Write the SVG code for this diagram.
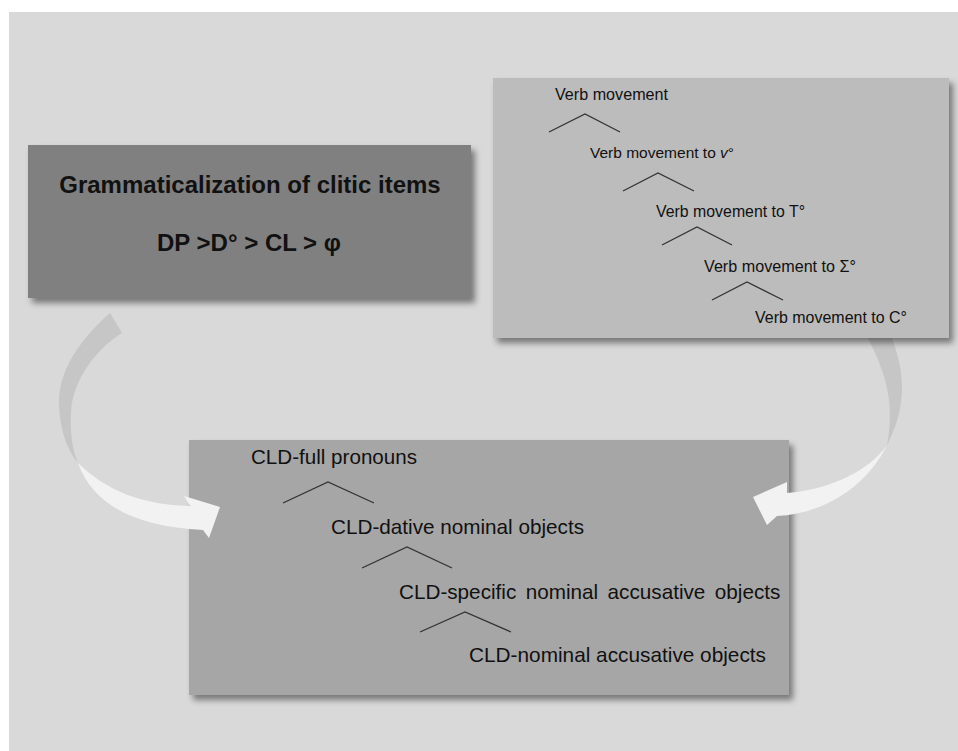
<svg xmlns="http://www.w3.org/2000/svg" width="958" height="751" viewBox="0 0 958 751">
  <defs>
    <filter id="shadow" x="-10%" y="-10%" width="125%" height="130%">
      <feDropShadow dx="4" dy="5" stdDeviation="3" flood-color="#000" flood-opacity="0.45"/>
    </filter>
    <style>
      .bg { fill: #d9d9d9; }
      .box { filter: url(#shadow); }
      .title { font-family: "Liberation Sans", Arial, sans-serif; font-weight: bold; font-size: 24px; fill: #111; text-anchor: middle; }
      .verb { font-family: "Liberation Sans", Arial, sans-serif; font-size: 17px; fill: #111; }
      .cld { font-family: "Liberation Sans", Arial, sans-serif; font-size: 20.7px; fill: #111; }
      .branch { fill: none; stroke: #333; stroke-width: 1.3; }
      .back { fill: #c6c6c6; }
      .front { fill: #f2f2f2; }
    </style>
  </defs>

  <!-- page background -->
  <rect class="bg" x="9" y="12" width="949" height="739"/>

  <!-- clitic doubling tree (drawn first so the arrowheads sit on top of it) -->
  <g id="clitic-doubling">
    <rect class="box" x="189" y="440" width="600" height="255" fill="#a6a6a6"/>
    <text class="cld" x="251" y="464" textLength="166" lengthAdjust="spacingAndGlyphs">CLD-full pronouns</text>
    <polyline class="branch" points="283,503 328,482 374,503"/>
    <text class="cld" x="331" y="534" textLength="253" lengthAdjust="spacingAndGlyphs">CLD-dative nominal objects</text>
    <polyline class="branch" points="362,568 407,547 452,568"/>
    <text class="cld" x="399" y="599" word-spacing="3.7">CLD-specific nominal accusative objects</text>
    <polyline class="branch" points="420,632 465,612 511,632"/>
    <text class="cld" x="469" y="662" textLength="297" lengthAdjust="spacingAndGlyphs">CLD-nominal accusative objects</text>
  </g>

  <!-- curved arrows -->
  <g id="connectors">
    <g id="arrow-left">
      <path class="back" d="M110,313 C80,340 58,370 59,405 C60,430 67,450 78,463 C72,450 70,430 71,412 C73,380 95,350 122,333 Z"/>
      <path class="front" d="M78,463 Q100,525 203,530 L209,538 L220,507 L184,496 L190,506 Q120,505 78,463 Z"/>
    </g>
    <g id="arrow-right">
      <path class="back" d="M864,332 C875,350 886,375 889,400 C891,420 889,435 887,445 C895,430 902,410 902,388 C902,365 896,350 890,332 Z"/>
      <path class="front" d="M887,445 C870,470 830,490 787,493 L787,482 L753,497 L767,525 L777,516 C820,514 865,490 887,445 Z"/>
    </g>
  </g>

  <!-- grammaticalization box -->
  <g id="grammaticalization">
    <rect class="box" x="28" y="145" width="443" height="153" fill="#808080"/>
    <text class="title" x="250" y="193">Grammaticalization of clitic items</text>
    <text class="title" x="249" y="251">DP &gt;D° &gt; CL &gt; φ</text>
  </g>

  <!-- verb movement tree -->
  <g id="verb-movement">
    <rect class="box" x="493" y="78" width="456" height="260" fill="#bcbcbc"/>
    <text class="verb" x="555" y="100" textLength="113" lengthAdjust="spacingAndGlyphs">Verb movement</text>
    <polyline class="branch" points="549,132 585,114 620,132"/>
    <text class="verb" x="590" y="158" style="font-size:15.5px">Verb movement to <tspan font-style="italic">v</tspan>°</text>
    <polyline class="branch" points="623,191 658,173 694,191"/>
    <text class="verb" x="656" y="217" textLength="149" lengthAdjust="spacingAndGlyphs">Verb movement to T°</text>
    <polyline class="branch" points="662,245 697,227 732,245"/>
    <text class="verb" x="704" y="272" textLength="152" lengthAdjust="spacingAndGlyphs">Verb movement to Σ°</text>
    <polyline class="branch" points="712,300 747,282 783,300"/>
    <text class="verb" x="755" y="323" textLength="152" lengthAdjust="spacingAndGlyphs">Verb movement to C°</text>
  </g>
</svg>
